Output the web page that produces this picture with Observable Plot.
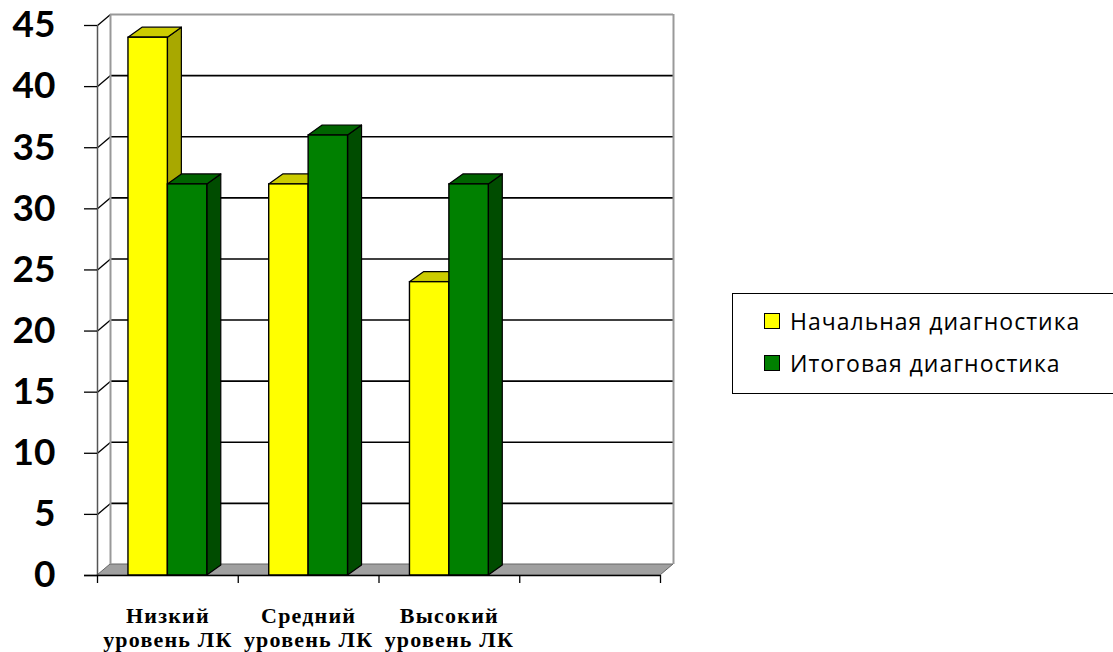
<!DOCTYPE html>
<html><head><meta charset="utf-8">
<script src="https://cdn.jsdelivr.net/npm/d3@7"></script>
<script src="https://cdn.jsdelivr.net/npm/@observablehq/plot@0.6"></script>
<style>
body{margin:0;background:#fff;}
#wrap{position:relative;width:1113px;height:652px;overflow:hidden;}
#wrap svg{overflow:visible;}
g[aria-label="y-axis tick label"] text{font-family:Lato,"Open Sans",sans-serif;font-weight:bold;font-size:37px;fill:#000;}
g[aria-label="text"] text{letter-spacing:1.2px;}
#legend{position:absolute;left:732px;top:293px;width:420px;height:101px;border:1px solid #000;box-sizing:border-box;font-family:"Open Sans",sans-serif;font-size:23px;letter-spacing:1px;color:#000;}
#legend .item{position:absolute;left:31px;display:flex;align-items:center;height:30px;}
#legend .sw{width:14px;height:14px;border:1px solid #000;margin-right:10px;}
</style></head><body><div id="wrap"></div>
<script>
const categories = ["Низкий\nуровень ЛК", "Средний\nуровень ЛК", "Высокий\nуровень ЛК", ""];
const seriesNames = ["Начальная диагностика", "Итоговая диагностика"];
const initialValues = [44, 32, 24, null];
const finalValues = [32, 36, 32, null];
const yTicks = [0, 5, 10, 15, 20, 25, 30, 35, 40, 45];

const W = 1113, H = 652;
const mL = 97, mR = 453, mT = 25, mB = 77;
const pxX = 4 / (W - mL - mR);      // data units per px in x
const pxY = 45 / (H - mT - mB);     // data units per px in y
const wallDX = 13 * pxX, wallDY = 11 * pxY;
const barDX = 14 * pxX, barDY = 10 * pxY;

const series = [
  {name: seriesNames[0], values: initialValues, off: 0.22, front: "#ffff00", top: "#cccc00", side: "#a8a800"},
  {name: seriesNames[1], values: finalValues, off: 0.5, front: "#008000", top: "#006400", side: "#004c00"}
];
const barW = 0.28;

const marks = [];
// floor
marks.push(Plot.areaX([{y: 0, x1: 0, x2: 4}, {y: wallDY, x1: wallDX, x2: 4 + wallDX}],
  {y: "y", x1: "x1", x2: "x2", fill: "#a0a0a0", stroke: "#666", strokeWidth: 1}));
// back wall gridlines
const innerTicks = yTicks.filter(t => t > 0 && t < 45);
marks.push(Plot.ruleY(innerTicks, {y: d => d + wallDY, x1: wallDX, x2: 4 + wallDX, stroke: "#000", strokeWidth: 1.6}));
marks.push(Plot.link(innerTicks.concat([45]), {x1: 0, y1: d => d, x2: wallDX, y2: d => d + wallDY, stroke: "#000", strokeWidth: 1.3}));
// wall edges
marks.push(Plot.ruleY([45], {y: d => d + wallDY, x1: wallDX, x2: 4 + wallDX, stroke: "#999", strokeWidth: 2}));
marks.push(Plot.ruleX([wallDX, 4 + wallDX], {y1: wallDY, y2: 45 + wallDY, stroke: "#999", strokeWidth: 2}));
marks.push(Plot.ruleX([0], {y1: 0, y2: 45, stroke: "#555", strokeWidth: 1.5}));

// bars
series.forEach(s => {
  const bars = s.values.map((v, i) => ({i, v})).filter(d => d.v != null);
  const side = bars.flatMap(d => {
    const xr = d.i + s.off + barW;
    return [{k: d.i, x: xr, y1: 0, y2: d.v}, {k: d.i, x: xr + barDX, y1: barDY, y2: d.v + barDY}];
  });
  const top = bars.flatMap(d => {
    const xl = d.i + s.off, xr = xl + barW;
    return [{k: d.i, y: d.v, x1: xl, x2: xr}, {k: d.i, y: d.v + barDY, x1: xl + barDX, x2: xr + barDX}];
  });
  marks.push(Plot.areaY(side, {x: "x", y1: "y1", y2: "y2", z: "k", fill: s.side, stroke: "#000", strokeWidth: 1.2, strokeLinejoin: "round"}));
  marks.push(Plot.areaX(top, {y: "y", x1: "x1", x2: "x2", z: "k", fill: s.top, stroke: "#000", strokeWidth: 1.2, strokeLinejoin: "round"}));
  marks.push(Plot.rect(bars, {x1: d => d.i + s.off, x2: d => d.i + s.off + barW, y1: 0, y2: "v", fill: s.front, stroke: "#000", strokeWidth: 1.4}));
});

// baseline
marks.push(Plot.ruleY([0], {x1: -13 * pxX, x2: 4, stroke: "#000", strokeWidth: 1.5}));
// axes
marks.push(Plot.axisY({ticks: yTicks, tickSize: 13, tickPadding: 29, stroke: "#000", strokeWidth: 1.3}));
marks.push(Plot.axisX({ticks: [0, 1, 2, 3, 4], tickSize: 8, tickFormat: () => "", stroke: "#000", strokeWidth: 1.3}));
// category labels
marks.push(Plot.text(categories, {x: (d, i) => i + 0.5, y: 0, text: d => d, dy: 30, lineAnchor: "top", lineHeight: 1.1,
  fontFamily: "Liberation Serif", fontWeight: "bold", fontSize: 22, fill: "#000"}));

const chart = Plot.plot({
  width: W, height: H,
  marginLeft: mL, marginRight: mR, marginTop: mT, marginBottom: mB,
  x: {type: "linear", domain: [0, 4], axis: null},
  y: {type: "linear", domain: [0, 45], axis: null},
  style: {background: "#fff", overflow: "visible"},
  marks
});
const wrap = document.getElementById("wrap");
wrap.appendChild(chart);

// legend
const legend = document.createElement("div");
legend.id = "legend";
const rows = [{t: 12}, {t: 54}];
series.forEach((s, j) => {
  const it = document.createElement("div");
  it.className = "item";
  it.style.top = rows[j].t + "px";
  const sw = document.createElement("span");
  sw.className = "sw";
  sw.style.background = s.front;
  const tx = document.createElement("span");
  tx.textContent = s.name;
  it.appendChild(sw); it.appendChild(tx);
  legend.appendChild(it);
});
wrap.appendChild(legend);
</script>
</body></html>
